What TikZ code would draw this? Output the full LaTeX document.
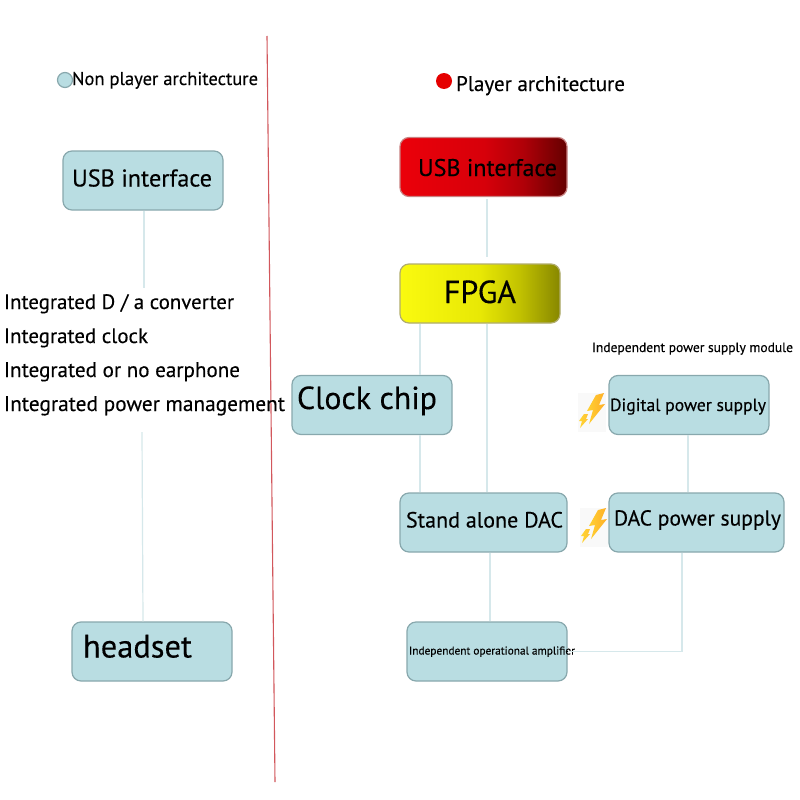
\documentclass[tikz,border=0pt]{standalone}
\usepackage{graphicx}
\usepackage{fontspec}
\setmainfont[FakeBold=0.25]{PT Sans}
% zero-size label: horizontal offset, baseline offset, printed width, text
\newcommand\lab[4]{\makebox[0pt]{\hspace*{#1pt}\hspace*{#1pt}\smash{\raisebox{-#2pt}{\resizebox{#3pt}{!}{#4}}}}}
\definecolor{boxfill}{HTML}{B9DDE2}
\definecolor{boxedge}{HTML}{88A8AD}
\definecolor{wire}{HTML}{D6E8EB}
\definecolor{divider}{HTML}{D2575C}
\definecolor{redA}{RGB}{235,0,10}
\definecolor{redB}{RGB}{215,0,10}
\definecolor{redC}{RGB}{175,0,8}
\definecolor{redD}{RGB}{100,0,0}
\definecolor{yelA}{RGB}{250,250,15}
\definecolor{yelB}{RGB}{232,232,5}
\definecolor{yelC}{RGB}{195,195,0}
\definecolor{yelD}{RGB}{135,135,0}
% fills that hold their colour for most of the width, then darken at the right
\pgfdeclarehorizontalshading{redfade}{100bp}{
  color(0bp)=(redA); color(25bp)=(redA); color(50bp)=(redB);
  color(62bp)=(redC); color(75bp)=(redD); color(100bp)=(redD)}
\pgfdeclarehorizontalshading{yellowfade}{100bp}{
  color(0bp)=(yelA); color(25bp)=(yelA); color(50bp)=(yelB);
  color(62bp)=(yelC); color(75bp)=(yelD); color(100bp)=(yelD)}
\tikzset{
  block/.style={draw=boxedge,line width=1.2pt,rounded corners=9pt,fill=boxfill,
    inner sep=0pt,minimum width=#1,minimum height=59pt},
  block/.default=160pt,
  redblock/.style={block=167pt,draw=red!40!gray!70,shading=redfade},
  yellowblock/.style={block=160pt,draw=olive!55!gray!70,shading=yellowfade},
  wireline/.style={draw=wire,line width=1.2pt},
  caption/.style={inner sep=0pt,anchor=center},
  dot/.style={circle,inner sep=0pt,minimum size=15pt,line width=1.2pt},
  bolt/.pic={
    \fill[black!2.5] (578,393) rectangle (606,432);
    \path[left color=yellow!55!orange!80,right color=orange!75!yellow!85]
      (596,395) -- (604,393) -- (599,405) -- (605,404) -- (589,424) -- (593,410) -- (587,411) -- cycle;
    \path[left color=yellow!60!orange!80,right color=orange!60!yellow!80]
      (584,414) -- (588,414) -- (586,419) -- (588,419) -- (580,428) -- (582,421) -- (579,421) -- cycle;
  }
}
\begin{document}
\begin{tikzpicture}[x=1pt,y=-1pt]
\useasboundingbox (0,0) rectangle (800,800);
\fill[white] (0,0) rectangle (800,800);

% dividing rule between the two architectures
\coordinate (ruleTop) at (267,36);
\coordinate (ruleEnd) at (275,782);
\draw[divider,line width=1.1pt] (ruleTop) -- (ruleEnd);

% legend entries
\node[dot,draw=boxedge,fill=boxfill] (dotNon) at (65,80) {};
\node[caption] (capNon) at (165,78) {\lab{0}{7}{186}{Non player architecture}};
\node[dot,fill=red!90!black,minimum size=16pt] (dotPlayer) at (444,81) {};
\node[caption] (capPlayer) at (540.5,84) {\lab{0}{7}{169}{Player architecture}};
\node[caption] (capModule) at (692.5,347) {\lab{0}{5}{201}{Independent power supply module}};

% left column
\node[block] (usbL) at (143,180.5) {\lab{-1}{6}{140}{USB interface}};
\node[inner sep=0pt,minimum width=281pt,minimum height=144pt] (list) at (144.5,360)
  {\lab{-25.5}{-51}{230}{Integrated D / a converter}%
   \lab{-68.5}{-17}{144}{Integrated clock}%
   \lab{-22.5}{17}{236}{Integrated or no earphone}%
   \lab{0}{51}{281}{Integrated power management}};
\node[block] (headset) at (152,651.5) {\lab{-14.5}{6}{109}{headset}};

% right column
\node[redblock] (usbR) at (483.5,167) {\lab{4}{9}{139}{USB interface}};
\node[yellowblock] (fpga) at (480,293.5) {\lab{0}{9.5}{72}{FPGA}};
\node[block] (clock) at (372,405) {\lab{-5}{4}{140}{Clock chip}};
\node[block=167pt] (dac) at (483.5,522.5) {\lab{1}{5}{157}{Stand alone DAC}};
\node[block] (amp) at (487,651.5) {\lab{5}{3}{166}{Independent operational amplifier}};
\node[block] (digital) at (689,405) {\lab{-1}{6}{156}{Digital power supply}};
\node[block=175pt] (dacpower) at (696.5,522.5) {\lab{1}{3}{167}{DAC power supply}};

% power symbols
\pic at (0,0) {bolt};
\pic at (2,115) {bolt};

% connectors, left column
\draw[wireline] ([xshift=1pt]usbL.south) -- ([xshift=-0.5pt]list.north);
\draw[wireline] ([xshift=-2.5pt]list.south) -- ([xshift=-9pt]headset.north);

% connectors, right column
\draw[wireline] ([xshift=3.5pt,yshift=-2pt]usbR.south) -- ([xshift=7pt,yshift=6pt]fpga.north);
\draw[wireline] ([xshift=-60pt]fpga.south) -- ([xshift=48pt]clock.north);
\draw[wireline] ([xshift=48pt]clock.south) -- ([xshift=-63.5pt]dac.north);
\draw[wireline] ([xshift=7pt]fpga.south) -- ([xshift=3.5pt]dac.north);
\draw[wireline] ([xshift=-1pt]digital.south) -- ([xshift=-8.5pt]dacpower.north);
\draw[wireline] ([xshift=6.5pt]dac.south) -- ([xshift=3pt]amp.north);
\draw[wireline] ([xshift=-14.5pt]dacpower.south) |- (amp.east);
\end{tikzpicture}
\end{document}
